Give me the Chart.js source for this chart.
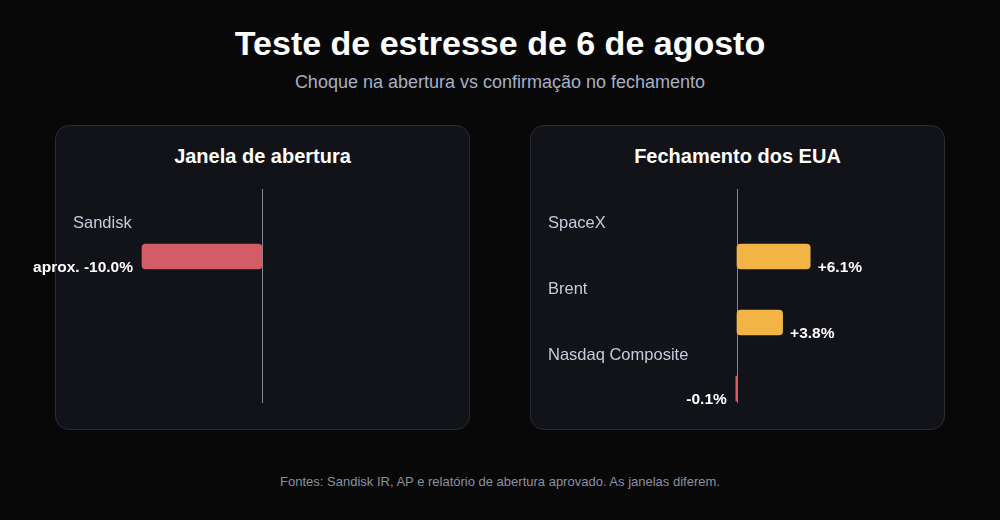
<!DOCTYPE html>
<html lang="pt-BR">
<head>
<meta charset="utf-8">
<script src="https://cdn.jsdelivr.net/npm/chart.js@4.4.1/dist/chart.umd.min.js"></script>
<style>
  html, body { margin: 0; padding: 0; background: #080808; }
  body { width: 1000px; height: 520px; position: relative; overflow: hidden; font-family: "Liberation Sans", Arial, sans-serif; }
  .title { position: absolute; left: 0; width: 1000px; top: 22px; text-align: center; color: #ffffff; font-weight: bold; font-size: 34px; line-height: 42px; }
  .subtitle { position: absolute; left: 0; width: 1000px; top: 70px; text-align: center; color: #a9afc4; font-size: 18px; line-height: 24px; }
  .panel { position: absolute; top: 125px; width: 415px; height: 305px; box-sizing: border-box; background: #121318; border: 1px solid #2a2c34; border-radius: 14px; }
  .panel-title { position: absolute; top: 144px; width: 415px; text-align: center; color: #ffffff; font-weight: bold; font-size: 20px; line-height: 24px; }
  .chart-box { position: absolute; top: 125px; width: 500px; height: 305px; }
  .footer { position: absolute; left: 0; width: 1000px; top: 474px; text-align: center; color: #8b91a1; font-size: 13px; line-height: 16px; }
</style>
</head>
<body>
<div class="title">Teste de estresse de 6 de agosto</div>
<div class="subtitle">Choque na abertura vs confirmação no fechamento</div>

<div class="panel" style="left:55px"></div>
<div class="panel" style="left:530px"></div>
<div class="panel-title" style="left:55px">Janela de abertura</div>
<div class="panel-title" style="left:530px">Fechamento dos EUA</div>

<div class="chart-box" style="left:0px"><canvas id="openChart"></canvas></div>
<div class="chart-box" style="left:500px"><canvas id="closeChart"></canvas></div>

<div class="footer">Fontes: Sandisk IR, AP e relatório de abertura aprovado. As janelas diferem.</div>

<script>
// dados
const openCategories = ['Sandisk'];
const openValues = [-10.0];
const openPrefix = ['aprox. '];

const closeCategories = ['SpaceX', 'Brent', 'Nasdaq Composite'];
const closeValues = [6.1, 3.8, -0.1];
const closePrefix = ['', '', ''];

const rows = 3; // as duas janelas usam a mesma grade de linhas
const red = '#d35c67';
const amber = '#f3b446';

function fmt(v) {
  return (v > 0 ? '+' : '') + v.toFixed(1) + '%';
}

const barLabels = {
  id: 'barLabels',
  beforeDatasetsDraw(chart) {
    const { ctx, chartArea, scales: { x } } = chart;
    const x0 = Math.floor(x.getPixelForValue(0)) + 0.5;
    ctx.save();
    ctx.strokeStyle = '#7e8597';
    ctx.lineWidth = 1;
    ctx.beginPath();
    ctx.moveTo(x0, chartArea.top - 34.5);
    ctx.lineTo(x0, chartArea.bottom - 18.5);
    ctx.stroke();
    ctx.restore();
  },
  afterDatasetsDraw(chart) {
    const { ctx, chartArea } = chart;
    const ds = chart.data.datasets[0];
    const meta = chart.getDatasetMeta(0);
    ctx.save();
    meta.data.forEach((bar, i) => {
      const v = ds.data[i];
      if (v == null) return;
      // nome da categoria acima da barra
      ctx.font = '16.5px "Liberation Sans", Arial, sans-serif';
      ctx.fillStyle = '#c6cbdb';
      ctx.textAlign = 'left';
      ctx.textBaseline = 'alphabetic';
      ctx.fillText(chart.data.labels[i], chartArea.left + 3, bar.y - 29);
      // valor ao lado da barra
      ctx.font = 'bold 15.5px "Liberation Sans", Arial, sans-serif';
      ctx.fillStyle = '#ffffff';
      const txt = ds.prefix[i] + fmt(v);
      if (v < 0) {
        ctx.textAlign = 'right';
        ctx.fillText(txt, bar.x - 9, bar.y + 15.5);
      } else {
        ctx.textAlign = 'left';
        ctx.fillText(txt, bar.x + 7.5, bar.y + 15.5);
      }
    });
    ctx.restore();
  }
};

function makeChart(id, categories, values, prefix, padLeft, padRight) {
  const labels = categories.slice();
  const data = values.slice();
  while (labels.length < rows) { labels.push(''); data.push(null); }
  return new Chart(document.getElementById(id), {
    type: 'bar',
    data: {
      labels: labels,
      datasets: [{
        data: data,
        prefix: prefix,
        backgroundColor: data.map(v => v < 0 ? red : amber),
        barThickness: 25,
        borderRadius: 4,
        borderSkipped: false
      }]
    },
    options: {
      indexAxis: 'y',
      responsive: true,
      maintainAspectRatio: false,
      animation: false,
      layout: { padding: { top: 98.5, bottom: 8.5, left: padLeft, right: padRight } },
      plugins: { legend: { display: false }, tooltip: { enabled: false } },
      scales: {
        x: { min: -16, max: 16, display: false },
        y: { display: false }
      }
    },
    plugins: [barLabels]
  });
}

makeChart('openChart', openCategories, openValues, openPrefix, 70, 46);
makeChart('closeChart', closeCategories, closeValues, closePrefix, 45, 71);
</script>
</body>
</html>
